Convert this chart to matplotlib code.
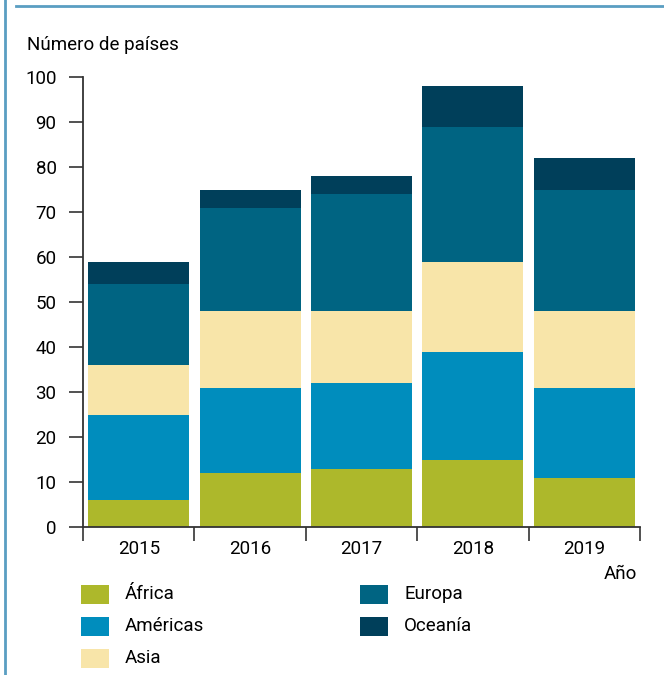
import numpy as np
import matplotlib.pyplot as plt
from matplotlib.lines import Line2D
from matplotlib.patches import Rectangle
from matplotlib import font_manager

# data
years = ["2015", "2016", "2017", "2018", "2019"]
africa = [6, 12, 13, 15, 11]
americas = [19, 19, 19, 24, 20]
asia = [11, 17, 16, 20, 17]
europa = [18, 23, 26, 30, 27]
oceania = [5, 4, 4, 9, 7]

series_names = ["África", "Américas", "Asia", "Europa", "Oceanía"]
colors = ["#adb82b", "#008dbd", "#f8e5a9", "#006482", "#003f5a"]

names = {f.name for f in font_manager.fontManager.ttflist}
fam = "Liberation Sans Narrow" if "Liberation Sans Narrow" in names else "Roboto"
plt.rcParams["font.family"] = [fam, "DejaVu Sans"]
fs = 13.5
plt.rcParams["font.size"] = fs

fig = plt.figure(figsize=(6.64, 6.75), dpi=100)
ax = fig.add_axes([83 / 664, 1 - 527 / 675, (640 - 83) / 664, (527 - 77) / 675])

x = np.arange(len(years))
bottom = np.zeros(len(years))
for vals, col in zip([africa, americas, asia, europa, oceania], colors):
    ax.bar(x, vals, width=0.905, bottom=bottom, color=col, linewidth=0)
    bottom += np.array(vals)

ax.set_xlim(-0.5, len(years) - 0.5)
ax.set_ylim(0, 100)
ax.set_yticks(np.arange(0, 101, 10))
ax.set_xticks(x)
ax.set_xticklabels(years)
ax.set_xticks(np.arange(-0.5, len(years), 1), minor=True)
ax.tick_params(axis="x", which="major", length=0, pad=9, labelsize=fs)
ax.tick_params(axis="x", which="minor", length=10, width=1.2, color="#333333")
ax.tick_params(axis="y", length=10, width=1.2, color="#333333", pad=9, labelsize=fs)
for s in ["top", "right"]:
    ax.spines[s].set_visible(False)
for s in ["left", "bottom"]:
    ax.spines[s].set_linewidth(1.3)
    ax.spines[s].set_color("#333333")

fig.text(27 / 664, 1 - 45 / 675, "Número de países", ha="left", va="center", fontsize=fs)
fig.text(637 / 664, 1 - 574 / 675, "Año", ha="right", va="center", fontsize=fs)

# legend, drawn manually in figure coords
leg_pos = [(81, 594), (81, 626), (81, 658), (360, 594), (360, 626)]
for name, col, (lx, ly) in zip(series_names, colors, leg_pos):
    fig.patches.append(Rectangle((lx / 664, 1 - (ly + 10) / 675), 28 / 664, 19 / 675,
                                 transform=fig.transFigure, color=col, linewidth=0))
    fig.text((lx + 44) / 664, 1 - ly / 675, name, ha="left", va="center", fontsize=fs)

# blue frame lines
fig.add_artist(Line2D([5 / 664, 5 / 664], [0, 1], transform=fig.transFigure,
                      color="#5a9ec2", linewidth=2))
fig.add_artist(Line2D([16 / 664, 1], [1 - 6 / 675, 1 - 6 / 675], transform=fig.transFigure,
                      color="#5a9ec2", linewidth=2))

fig.savefig("out.png", dpi=100)
